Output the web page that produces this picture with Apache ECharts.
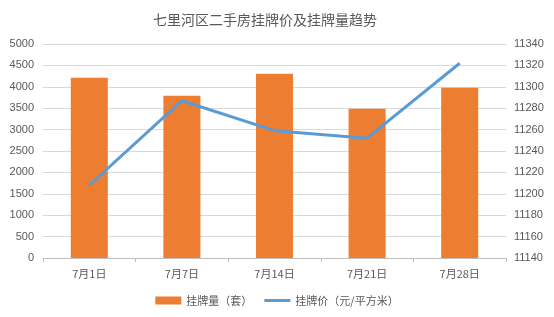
<!DOCTYPE html>
<html><head><meta charset="utf-8">
<script src="https://cdn.jsdelivr.net/npm/echarts@6/dist/echarts.min.js"></script>
<style>html,body{margin:0;padding:0;background:#fff}#c{width:554px;height:317px}</style>
</head><body><div id="c"></div>
<script>
const categories = ['7月1日','7月7日','7月14日','7月21日','7月28日'];
const listingCount = [4210, 3790, 4305, 3485, 3977];
const listingPrice = [11208, 11287, 11259, 11252, 11322];
const leftTicks = {min: 0, max: 5000, interval: 500};
const rightTicks = {min: 11140, max: 11340, interval: 20};

const chart = echarts.init(document.getElementById('c'));
const font = '"Noto Sans CJK SC", "Liberation Sans", sans-serif';
const numFont = '"Liberation Sans", Arial, sans-serif';
chart.setOption({
  animation: false,
  title: {
    text: '七里河区二手房挂牌价及挂牌量趋势',
    left: 260, top: 8, textAlign: 'center',
    textStyle: {fontFamily: font, fontSize: 14, fontWeight: 'normal', color: '#595959'}
  },
  legend: {
    left: 'center', top: 290, itemGap: 12,
    itemWidth: 26, itemHeight: 8,
    textStyle: {fontFamily: font, fontSize: 11, color: '#595959'},
    data: [
      {name: '挂牌量（套）', icon: 'rect'},
      {name: '挂牌价（元/平方米）', icon: 'path://M0,0 L26,0 L26,3 L0,3 Z', itemStyle: {color: '#5b9bd5'}}
    ]
  },
  grid: {left: 43, right: 48, top: 44, bottom: 59, containLabel: false},
  xAxis: {
    type: 'category', data: categories,
    axisLine: {lineStyle: {color: '#bfbfbf'}},
    axisTick: {show: true, length: 4, lineStyle: {color: '#bfbfbf'}},
    axisLabel: {fontFamily: font, fontSize: 11, color: '#595959', margin: 10}
  },
  yAxis: [
    {type: 'value', min: leftTicks.min, max: leftTicks.max, interval: leftTicks.interval,
     axisLine: {show: false}, axisTick: {show: false},
     splitLine: {lineStyle: {color: '#d9d9d9'}},
     axisLabel: {fontFamily: numFont, fontSize: 11, color: '#595959', margin: 9, formatter: v => String(v)}},
    {type: 'value', min: rightTicks.min, max: rightTicks.max, interval: rightTicks.interval,
     axisLine: {show: false}, axisTick: {show: false},
     splitLine: {show: false},
     axisLabel: {fontFamily: numFont, fontSize: 11, color: '#595959', margin: 8, formatter: v => String(v)}}
  ],
  series: [
    {name: '挂牌量（套）', type: 'bar', data: listingCount, barWidth: '40%',
     itemStyle: {color: '#ed7d31'}},
    {name: '挂牌价（元/平方米）', type: 'line', yAxisIndex: 1, data: listingPrice,
     showSymbol: false, symbol: 'none',
     lineStyle: {color: '#5b9bd5', width: 3}, itemStyle: {color: '#5b9bd5'}}
  ]
});
</script></body></html>
